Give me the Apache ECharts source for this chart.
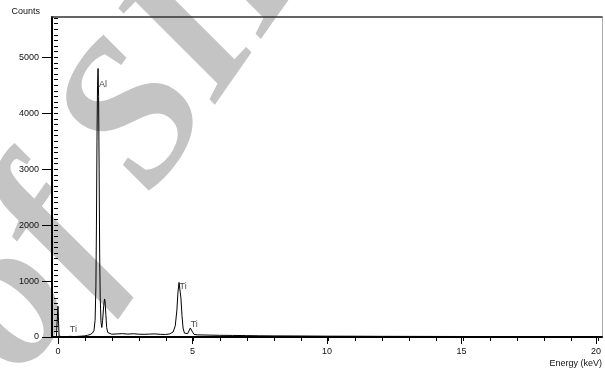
<!DOCTYPE html>
<html>
<head>
<meta charset="utf-8">
<title>EDS spectrum</title>
<script src="https://cdn.jsdelivr.net/npm/echarts@6.0.0/dist/echarts.min.js"></script>
<style>
  html, body { margin: 0; padding: 0; background: #fff; }
  #chart { width: 605px; height: 370px; }
</style>
</head>
<body>
<div id="chart"></div>
<script>
// spectrum, energy in keV and counts
const energyKeV = [
  -0.22, -0.06, -0.03, 0.0, 0.02, 0.04, 0.08, 0.2, 0.35, 0.45, 0.55, 0.7, 0.85,
  1.0, 1.1, 1.2, 1.28, 1.34, 1.38, 1.41, 1.43, 1.45, 1.47, 1.49, 1.51, 1.53,
  1.55, 1.57, 1.6, 1.63, 1.66, 1.7, 1.73, 1.75, 1.78, 1.81, 1.85, 1.9, 2.0,
  2.2, 2.4, 2.6, 2.8, 3.0, 3.2, 3.4, 3.6, 3.8, 4.0, 4.15, 4.28, 4.36, 4.42,
  4.46, 4.5, 4.53, 4.57, 4.61, 4.65, 4.7, 4.76, 4.82, 4.87, 4.92, 4.96, 5.0,
  5.06, 5.2, 5.5, 6.0, 6.5, 7.0, 7.5, 8.0, 9.0, 10, 11, 12, 13, 14, 15, 16,
  17, 18, 19, 20.22
]
const counts = [
  0, 0, 10, 550, 300, 15, 5, 4, 6, 12, 8, 10, 14,
  20, 30, 45, 70, 120, 300, 900, 2000, 3500, 4500, 4800, 4300, 3000,
  1500, 700, 260, 170, 300, 560, 680, 640, 400, 170, 80, 55, 50,
  55, 60, 52, 58, 50, 48, 52, 55, 48, 45, 55, 90, 200, 480,
  800, 975, 940, 700, 380, 160, 70, 45, 60, 110, 160, 150, 90,
  45, 38, 35, 30, 28, 25, 22, 20, 18, 15, 14, 12, 11, 10, 9, 8,
  8, 7, 7, 6
]

// element markers written next to the peaks
const peakNames = ["Ti", "Al", "Ti", "Ti"]
const peakEnergy = [0.44, 1.52, 4.52, 4.93]
const peakCounts = [125, 4520, 895, 232]

const majorEnergyTicks = [0, 5, 10, 15, 20]
const minorEnergyTicks = [
  0, 1, 2, 3, 4, 5, 6, 7, 8, 9, 10, 11, 12, 13, 14, 15, 16, 17, 18, 19, 20,
]
const majorCountTicks = [0, 1000, 2000, 3000, 4000, 5000]
const minorCountTicks = [
  0, 100, 200, 300, 400, 500, 600, 700, 800, 900, 1000, 1100, 1200, 1300,
  1400, 1500, 1600, 1700, 1800, 1900, 2000, 2100, 2200, 2300, 2400, 2500,
  2600, 2700, 2800, 2900, 3000, 3100, 3200, 3300, 3400, 3500, 3600, 3700,
  3800, 3900, 4000, 4100, 4200, 4300, 4400, 4500, 4600, 4700, 4800, 4900,
  5000, 5100, 5200, 5300, 5400, 5500, 5600, 5700,
]

const energyMin = -0.222
const energyMax = 20.222
const countMax = 5720

const ink = "#111"
const font = "Liberation Sans, Arial, sans-serif"
const plot = { left: 52, right: 1, top: 17, bottom: 33 }

const chart = echarts.init(document.getElementById("chart"), null, {
  renderer: "canvas",
})

const hidden = { show: false }

chart.setOption({
  animation: false,
  textStyle: { fontFamily: font, color: ink },
  graphic: [
    {
      // faint watermark lying behind the plot
      type: "text",
      z: -10,
      x: -20,
      y: 348,
      rotation: (55 * Math.PI) / 180,
      silent: true,
      style: {
        text: "of SID",
        font: 'italic bold 205px "Liberation Serif", serif',
        fill: "#c4c4c4",
        textAlign: "left",
        textVerticalAlign: "middle",
      },
    },
  ],
  grid: [
    { ...plot, containLabel: false },
    { ...plot, containLabel: false },
  ],
  xAxis: [
    {
      type: "value",
      gridIndex: 0,
      min: energyMin,
      max: energyMax,
      name: "Energy (keV)",
      nameLocation: "end",
      nameGap: 0,
      nameTextStyle: {
        fontSize: 9,
        color: ink,
        align: "right",
        verticalAlign: "top",
        padding: [22, 0, 0, 0],
      },
      axisLine: { onZero: false, lineStyle: { color: "#000", width: 2 } },
      axisTick: {
        customValues: majorEnergyTicks,
        length: 7,
        lineStyle: { color: "#000", width: 1 },
      },
      axisLabel: {
        customValues: majorEnergyTicks,
        fontSize: 9,
        color: ink,
        margin: 10,
        formatter: (v) => String(v),
      },
      splitLine: hidden,
    },
    {
      type: "value",
      gridIndex: 1,
      min: energyMin,
      max: energyMax,
      axisLine: hidden,
      axisTick: {
        customValues: minorEnergyTicks,
        length: 4,
        lineStyle: { color: "#000", width: 1 },
      },
      axisLabel: hidden,
      splitLine: hidden,
    },
    {
      type: "value",
      gridIndex: 0,
      position: "top",
      min: energyMin,
      max: energyMax,
      axisLine: { onZero: false, lineStyle: { color: "#333", width: 1.5 } },
      axisTick: hidden,
      axisLabel: hidden,
      splitLine: hidden,
    },
  ],
  yAxis: [
    {
      type: "value",
      gridIndex: 0,
      min: 0,
      max: countMax,
      name: "Counts",
      nameLocation: "end",
      nameGap: 1,
      nameTextStyle: {
        fontSize: 9,
        color: ink,
        align: "right",
        padding: [0, 12, 0, 0],
      },
      axisLine: { show: true, onZero: false, lineStyle: { color: "#000", width: 2 } },
      axisTick: {
        show: true,
        customValues: majorCountTicks,
        length: 10,
        lineStyle: { color: "#000", width: 1 },
      },
      axisLabel: {
        customValues: majorCountTicks,
        fontSize: 9,
        color: ink,
        margin: 13,
        formatter: (v) => String(v),
      },
      splitLine: hidden,
    },
    {
      type: "value",
      gridIndex: 1,
      min: 0,
      max: countMax,
      axisLine: hidden,
      axisTick: {
        show: true,
        customValues: minorCountTicks,
        length: 4,
        lineStyle: { color: "#000", width: 1 },
      },
      axisLabel: hidden,
      splitLine: hidden,
    },
    {
      type: "value",
      gridIndex: 0,
      position: "right",
      min: 0,
      max: countMax,
      axisLine: { show: true, onZero: false, lineStyle: { color: "#aaa", width: 1 } },
      axisTick: hidden,
      axisLabel: hidden,
      splitLine: hidden,
    },
  ],
  series: [
    {
      name: "Spectrum",
      type: "line",
      xAxisIndex: 0,
      yAxisIndex: 0,
      showSymbol: false,
      symbol: "none",
      data: energyKeV.map((e, i) => [e, counts[i]]),
      lineStyle: { color: "#000", width: 1 },
      z: 3,
    },
    {
      name: "Peaks",
      type: "scatter",
      xAxisIndex: 0,
      yAxisIndex: 0,
      symbolSize: 0.1,
      itemStyle: { color: "transparent" },
      data: peakNames.map((name, i) => [peakEnergy[i], peakCounts[i], name]),
      label: {
        show: true,
        position: "right",
        distance: 0,
        fontSize: 9,
        color: ink,
        formatter: (p) => p.value[2],
      },
      z: 4,
    },
    {
      type: "line",
      xAxisIndex: 1,
      yAxisIndex: 1,
      data: [],
    },
  ],
})
</script>
</body>
</html>
